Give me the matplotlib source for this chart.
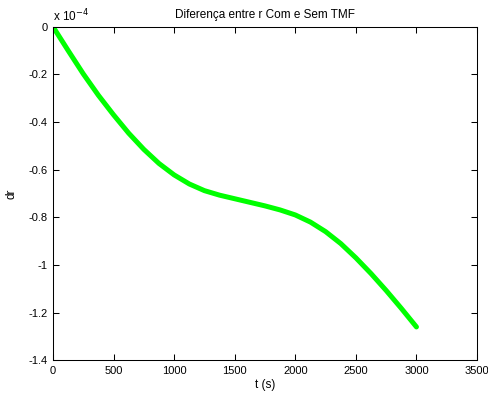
import numpy as np
import matplotlib
matplotlib.use("Agg")
import matplotlib.pyplot as plt
from matplotlib.ticker import FuncFormatter

# values (dr in units of 1e-4)
t_s = [0, 125, 250, 375, 500, 625, 750, 875, 1000, 1125, 1250, 1375, 1500,
       1625, 1750, 1875, 2000, 2125, 2250, 2375, 2500, 2625, 2750, 2875, 3000]
dr_e4 = [0, -0.10, -0.198, -0.288, -0.37, -0.447, -0.515, -0.574, -0.622,
         -0.66, -0.688, -0.707, -0.722, -0.737, -0.752, -0.769, -0.79, -0.82,
         -0.86, -0.91, -0.97, -1.036, -1.107, -1.182, -1.26]

x_ticks = [0, 500, 1000, 1500, 2000, 2500, 3000, 3500]
y_ticks = [0, -0.2, -0.4, -0.6, -0.8, -1, -1.2, -1.4]

plt.rcParams['font.family'] = ['Liberation Sans', 'DejaVu Sans']
plt.rcParams['axes.unicode_minus'] = False

fig = plt.figure(figsize=(4.88, 4.01), dpi=100)
ax = fig.add_axes([0.1086, 0.1015, 0.8689, 0.8319])

ax.plot(t_s, dr_e4, color='#00ff00', linewidth=3.6, solid_capstyle='round',
        solid_joinstyle='round')

ax.set_xlim(0, 3500)
ax.set_ylim(-1.4, 0)
ax.set_xticks(x_ticks)
ax.set_yticks(y_ticks)
ax.yaxis.set_major_formatter(FuncFormatter(lambda v, p: f"{v:g}"))
ax.tick_params(direction='in', top=True, right=True, length=4, width=0.75,
               labelsize=8, pad=4)
for sp in ax.spines.values():
    sp.set_linewidth(0.75)

ax.set_title("Diferença entre r Com e Sem TMF", fontsize=8.5, pad=6)
ax.set_xlabel("t (s)", fontsize=8.5, labelpad=2)
ax.set_ylabel("dr", fontsize=8.5, labelpad=8)
ax.text(0.0, 1.008, r"x 10$^{-4}$", transform=ax.transAxes, fontsize=8.5,
        ha='left', va='bottom')

fig.savefig("out.png", dpi=100)
